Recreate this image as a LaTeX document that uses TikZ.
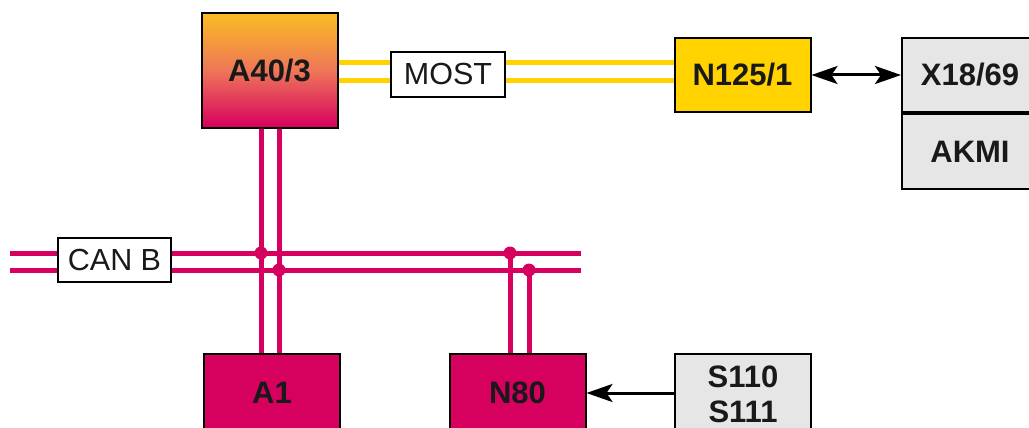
\documentclass[tikz,border=0pt]{standalone}
\usepackage{fontspec}
\setmainfont{Liberation Sans}
\usetikzlibrary{arrows.meta,backgrounds}
\definecolor{pinkbus}{RGB}{214,0,94}
\definecolor{yellowbus}{RGB}{255,210,0}
\definecolor{greybox}{RGB}{230,230,230}
\definecolor{gradtop}{RGB}{250,188,35}
\definecolor{gradmid}{RGB}{238,118,88}
\definecolor{gradbot}{RGB}{214,0,94}
\begin{document}
\begin{tikzpicture}[x=1pt,y=-1pt,
  box/.style={draw=black,line width=2pt,minimum width=136pt,inner sep=0pt,
    font=\fontsize{31}{36}\selectfont\bfseries,text=black!90,align=center},
  lbl/.style={draw=black,line width=2pt,fill=white,inner sep=0pt,
    font=\fontsize{30.5}{36}\selectfont,text=black!90},
  pbus/.style={draw=pinkbus,line width=5pt},
  ybus/.style={draw=yellowbus,line width=5pt},
  jdot/.style={circle,fill=pinkbus,inner sep=0pt,minimum size=13pt},
  arr/.style={line width=3pt,-{Stealth[length=26pt,width=18pt,inset=6pt]}},
  darr/.style={line width=3pt,{Stealth[length=26pt,width=18pt,inset=6pt]}-{Stealth[length=26pt,width=18pt,inset=6pt]}}]
\useasboundingbox (0,0) rectangle (1029,428);

% boxes
\node[box,minimum height=114pt,top color=gradtop,bottom color=gradbot,middle color=gradmid] (a40) at (269.5,70.5) {A40/3};
\node[lbl,minimum width=114pt,minimum height=45pt] (most) at (448,74.5) {MOST};
\node[box,minimum height=74pt,fill=yellowbus] (n125) at (742.5,75) {N125/1};
\node[box,minimum height=74pt,fill=greybox] (x18) at (970,75) {X18/69};
\node[box,minimum height=75pt,fill=greybox,anchor=north] (akmi) at (x18.south) {AKMI};
\node[lbl,minimum width=113pt,minimum height=44pt] (canb) at (114.5,260) {CAN B};
\node[box,minimum height=78pt,fill=pinkbus] (a1) at (272,393) {A1};
\node[box,minimum height=78pt,fill=pinkbus] (n80) at (517.5,393) {N80};
\node[box,minimum height=80pt,fill=greybox] (s110) at (743,394) {S110\\[-1pt]S111};

% helper coordinates
\coordinate (y1) at (0,63);
\coordinate (y2) at (0,81);
\coordinate (hL1) at (10,253);
\coordinate (hL2) at (10,270);
\coordinate (hR1) at (581,253);
\coordinate (hR2) at (581,270);
\coordinate (v1) at (261,0);
\coordinate (v2) at (279,0);
\coordinate (v3) at (510,0);
\coordinate (v4) at (529,0);

% junction dots
\node[jdot] (d1) at (v1 |- hL1) {};
\node[jdot] (d2) at (v2 |- hL2) {};
\node[jdot] (d3) at (v3 |- hL1) {};
\node[jdot] (d4) at (v4 |- hL2) {};

\begin{scope}[on background layer]
  \fill[white] (0,0) rectangle (1029,428);
  % MOST bus
  \draw[ybus] (a40.east |- y1) -- (most.west |- y1);
  \draw[ybus] (a40.east |- y2) -- (most.west |- y2);
  \draw[ybus] (most.east |- y1) -- (n125.west |- y1);
  \draw[ybus] (most.east |- y2) -- (n125.west |- y2);
  % CAN B bus
  \draw[pbus] (hL1) -- (canb.west |- hL1);
  \draw[pbus] (hL2) -- (canb.west |- hL2);
  \draw[pbus] (canb.east |- hL1) -- (hR1);
  \draw[pbus] (canb.east |- hL2) -- (hR2);
  % drops
  \draw[pbus] (a40.south -| v1) -- (a1.north -| v1);
  \draw[pbus] (a40.south -| v2) -- (a1.north -| v2);
  \draw[pbus] (d3.center) -- (n80.north -| d3);
  \draw[pbus] (d4.center) -- (n80.north -| d4);
\end{scope}

% arrows
\draw[darr] (n125.east) -- (x18.west |- n125.east);
\draw[arr] (s110.west |- n80.east) -- (n80.east);
\end{tikzpicture}
\end{document}
